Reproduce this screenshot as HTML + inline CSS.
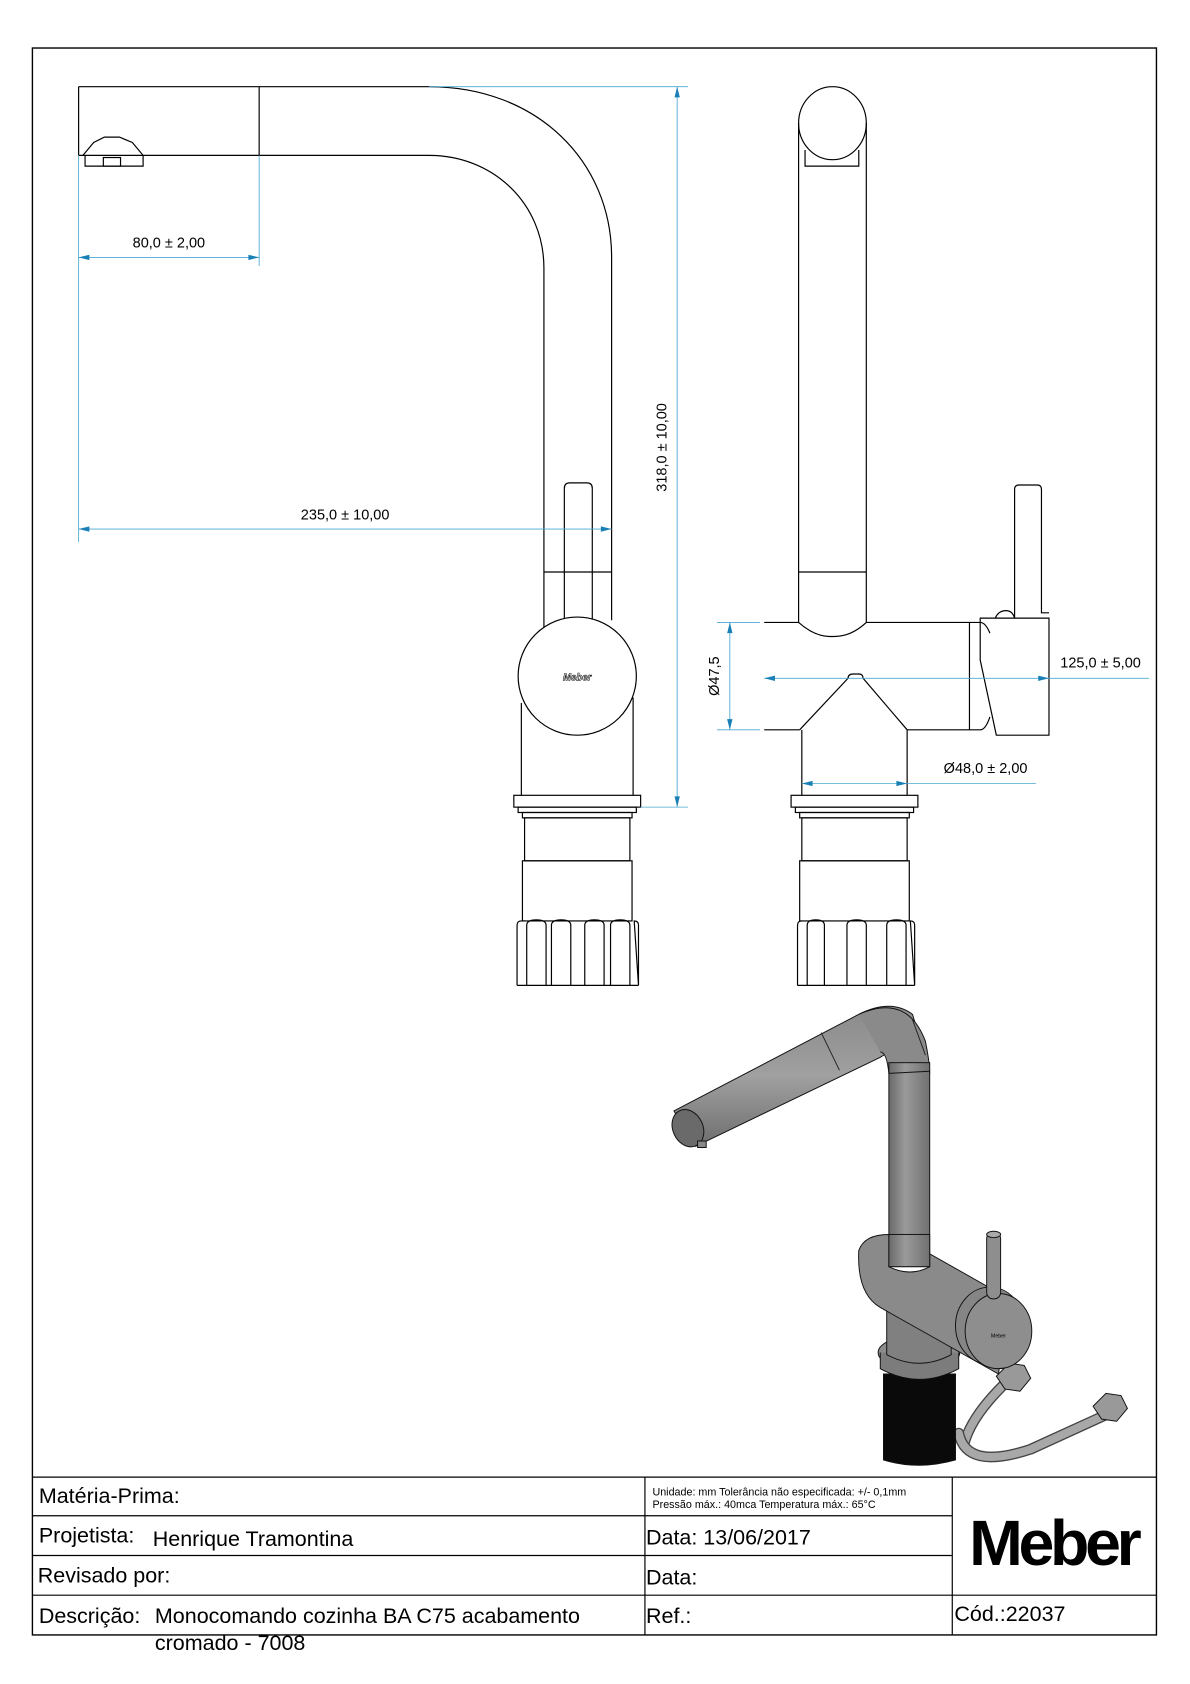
<!DOCTYPE html>
<html><head><meta charset="utf-8"><style>
html,body{margin:0;padding:0;background:#fff}
svg{display:block}
text{font-family:"Liberation Sans",Arial,sans-serif}
</style></head><body>
<svg width="1190" height="1684" viewBox="0 0 1190 1684" xmlns="http://www.w3.org/2000/svg">
<defs>
<linearGradient id="tube" x1="0" y1="0" x2="1" y2="0">
<stop offset="0" stop-color="#6a6a6a"/><stop offset="0.4" stop-color="#9a9a9a"/><stop offset="1" stop-color="#707070"/>
</linearGradient>
<linearGradient id="spout" x1="0" y1="0" x2="0" y2="1">
<stop offset="0" stop-color="#8a8a8a"/><stop offset="0.5" stop-color="#a0a0a0"/><stop offset="1" stop-color="#6e6e6e"/>
</linearGradient>
</defs>
<g transform="matrix(1.0746 0 0 1.0737 -0.9 -0.3)" fill="none" stroke="#000" stroke-width="1.1">
<rect x="31" y="45" width="1046" height="1478" stroke-width="1.3"/>
<line x1="31" y1="1376" x2="1077" y2="1376"/>
<line x1="31" y1="1412" x2="887" y2="1412"/>
<line x1="31" y1="1449" x2="887" y2="1449"/>
<line x1="31" y1="1486" x2="1077" y2="1486"/>
<line x1="601" y1="1376" x2="601" y2="1523"/>
<line x1="887" y1="1376" x2="887" y2="1523"/>

<!-- LEFT VIEW -->
<path d="M74 81 H400 C500 81 570 150 570 240 V578"/>
<path d="M74 145 H400 C460 145 507 190 507 250 V585"/>
<line x1="74" y1="81" x2="74" y2="145"/>
<line x1="242" y1="81" x2="242" y2="145"/>
<path d="M78 145 L88 133 L98 128 L112 128 L124 133 L134 145"/>
<path d="M80 145 V155 H134 V145"/>
<rect x="97" y="147" width="16" height="8"/>
<line x1="507" y1="533" x2="570" y2="533"/>
<path d="M526 578 V455 Q526 450 531 450 H547 Q552 450 552 455 V578"/>
<circle cx="538" cy="630" r="55" fill="#fff"/>
<text x="538" y="634" font-size="9" font-style="italic" font-weight="bold" text-anchor="middle" fill="#fff" stroke="#000" stroke-width="0.5">Meber</text>
<path d="M486 655 V741 M590 650 V741"/>
<rect x="479" y="741" width="118" height="11"/>
<rect x="483" y="752" width="110" height="5"/>
<rect x="487" y="757" width="102" height="5"/>
<rect x="489" y="762" width="98" height="40"/>
<rect x="487" y="802" width="102" height="56"/>
<path d="M482 918 V862 Q482 858 486 858 H489 M591 858 Q595 858 595 862 V918 Z"/>
<line x1="482" y1="918" x2="595" y2="918"/>
<path d="M491 918 V862 Q491 857 500 857 Q509 857 509 862 V918"/>
<path d="M514 918 V862 Q514 857 523 857 Q532 857 532 862 V918"/>
<path d="M545 918 V862 Q545 857 554 857 Q563 857 563 862 V918"/>
<path d="M569 918 V862 Q569 857 578 857 Q587 857 587 862 V918"/>

<!-- RIGHT VIEW -->
<path d="M744 580 V115 M807 580 V115"/>
<ellipse cx="775.5" cy="115" rx="31.5" ry="34"/>
<path d="M750 140 V155 H800 V140"/>
<line x1="744" y1="533" x2="807" y2="533"/>
<path d="M712 580 H744 Q760 594 775 593 Q792 594 807 580 H903 V680 H845 M745 680 H712 Z"/>
<path d="M745 680 L790 632 Q790 628 795 628 H800 Q804 628 804 632 L845 680"/>
<path d="M747 680 V741 M845 680 V741"/>
<path d="M903 580 H913 M903 680 H913 Q918 680 922 668"/>
<path d="M913 580 Q918 580 922 590"/>
<path d="M913 576 H977 V685 H928 L913 615 Z"/>
<path d="M945 576 V456 Q945 452 949 452 H966 Q970 452 970 456 V571 H977"/>
<path d="M927 576 Q930 569 937 569 Q943 569 945 576"/>
<rect x="737" y="741" width="118" height="11"/>
<rect x="741" y="752" width="110" height="5"/>
<rect x="745" y="757" width="102" height="5"/>
<rect x="747" y="762" width="98" height="40"/>
<rect x="745" y="802" width="102" height="56"/>
<path d="M743 918 V862 Q743 858 747 858 M848 858 Q852 858 852 862 V918 Z"/>
<line x1="743" y1="918" x2="852" y2="918"/>
<path d="M752 918 V862 Q752 857 760 857 Q768 857 768 862 V918"/>
<path d="M789 918 V862 Q789 857 798 857 Q807 857 807 862 V918"/>
<path d="M826 918 V862 Q826 857 835 857 Q844 857 844 862 V918"/>

<!-- DIMENSIONS -->
<g stroke="#4aa8d0" stroke-width="0.8">
<line x1="74" y1="145" x2="74" y2="505"/>
<line x1="242" y1="145" x2="242" y2="248"/>
<line x1="400" y1="81" x2="641" y2="81"/>
<line x1="597" y1="752" x2="641" y2="752"/>
<line x1="74" y1="240" x2="242" y2="240"/>
<line x1="74" y1="493" x2="570" y2="493"/>
<line x1="631" y1="81" x2="631" y2="752"/>
<line x1="668" y1="580" x2="708" y2="580"/>
<line x1="668" y1="680" x2="708" y2="680"/>
<line x1="680" y1="580" x2="680" y2="680"/>
<line x1="712" y1="632" x2="1070" y2="632"/>
<line x1="747" y1="730" x2="965" y2="730"/>
</g>
<g fill="#1a7fb5" stroke="none">
<path d="M74 240 l10 -2.5 v5 z"/><path d="M242 240 l-10 -2.5 v5 z"/>
<path d="M74 493 l10 -2.5 v5 z"/><path d="M570 493 l-10 -2.5 v5 z"/>
<path d="M631 81 l-2.5 10 h5 z"/><path d="M631 752 l-2.5 -10 h5 z"/>
<path d="M680 580 l-2.5 10 h5 z"/><path d="M680 680 l-2.5 -10 h5 z"/>
<path d="M712 632 l10 -2.5 v5 z"/><path d="M977 632 l-10 -2.5 v5 z"/>
<path d="M747 730 l10 -2.5 v5 z"/><path d="M845 730 l-10 -2.5 v5 z"/>
</g>
<g fill="#000" stroke="none" font-size="13.5">
<text x="158" y="231" text-anchor="middle">80,0 ± 2,00</text>
<text x="322" y="484" text-anchor="middle">235,0 ± 10,00</text>
<text transform="translate(621,417) rotate(-90)" text-anchor="middle">318,0 ± 10,00</text>
<text transform="translate(670,630) rotate(-90)" text-anchor="middle">Ø47,5</text>
<text x="1025" y="622" text-anchor="middle">125,0 ± 5,00</text>
<text x="918" y="720" text-anchor="middle">Ø48,0 ± 2,00</text>
</g>

<!-- ISOMETRIC RENDER -->
<g stroke="#111" stroke-width="0.9">
<path d="M898 1345 Q905 1318 940 1285" stroke="#444" stroke-width="10" stroke-linecap="round"/>
<path d="M898 1345 Q905 1318 940 1285" stroke="#a8a8a8" stroke-width="7.5" stroke-linecap="round"/>
<path d="M893 1335 Q900 1370 960 1350 L1030 1318" stroke="#444" stroke-width="10" stroke-linecap="round"/>
<path d="M893 1335 Q900 1370 960 1350 L1030 1318" stroke="#a8a8a8" stroke-width="7.5" stroke-linecap="round"/>
<path d="M928 1282 l12 -12 l14 2 l6 12 l-10 12 l-14 -2 z" fill="#999"/>
<path d="M1018 1310 l12 -12 l14 2 l6 12 l-10 12 l-14 -2 z" fill="#999"/>
<path d="M823 1280 V1360 Q855 1370 890 1360 V1280 Z" fill="#0a0a0a"/>
<ellipse cx="856" cy="1260" rx="38" ry="16" fill="#8c8c8c"/>
<path d="M820 1260 V1275 Q856 1295 893 1275 V1260" fill="#7c7c7c"/>
<path d="M826 1210 V1262 Q856 1278 886 1262 V1215 Z" fill="#808080"/>
<path d="M628 1035 L800 945 Q830 930 850 945 L862 985 L840 985 Q835 975 820 985 L648 1068 Z" fill="url(#spout)"/>
<path d="M800 945 Q845 925 862 970 Q866 990 866 1000 L828 1000 Q826 980 820 980" fill="#8a8a8a"/>
<ellipse cx="641" cy="1051" rx="14" ry="18" transform="rotate(-25 641 1051)" fill="#6a6a6a"/>
<line x1="765" y1="962" x2="782" y2="997" stroke="#222"/>
<line x1="850" y1="950" x2="862" y2="983" stroke="#222"/>
<path d="M650 1063 h8 v6 h-8 z" fill="#888"/>
<rect x="828" y="990" width="38" height="190" fill="url(#tube)"/>
<line x1="828" y1="1000" x2="866" y2="998"/>
<line x1="828" y1="1153" x2="866" y2="1150"/>
<path d="M800 1165 Q805 1150 828 1150 L828 1180 Q848 1190 866 1180 L866 1168 L940 1210 L930 1280 L820 1218 Q798 1205 800 1165 Z" fill="#8a8a8a"/>
<rect x="828" y="1150" width="38" height="30" fill="url(#tube)"/>
<ellipse cx="922" cy="1235" rx="32" ry="36" fill="#858585"/>
<ellipse cx="930" cy="1240" rx="31" ry="35" fill="#8e8e8e"/>
<text x="930" y="1246" font-size="5" fill="#000" stroke="none" text-anchor="middle">Meber</text>
<rect x="919" y="1148" width="13" height="62" rx="6" fill="#8e8e8e"/>
<ellipse cx="925.5" cy="1150" rx="6.5" ry="3" fill="#aaa"/>
</g>

<!-- TITLE TEXT -->
<g fill="#000" stroke="none">
<text x="37" y="1400" font-size="20">Matéria-Prima:</text>
<text x="37" y="1437" font-size="20">Projetista:</text>
<text x="143" y="1440" font-size="20">Henrique Tramontina</text>
<text x="36" y="1474" font-size="20">Revisado por:</text>
<text x="37" y="1512" font-size="20">Descrição:</text>
<text x="145" y="1512" font-size="20">Monocomando cozinha BA C75 acabamento</text>
<text x="145" y="1537" font-size="20">cromado - 7008</text>
<text x="608" y="1393" font-size="10">Unidade: mm Tolerância não especificada: +/- 0,1mm</text>
<text x="608" y="1405" font-size="10">Pressão máx.: 40mca        Temperatura máx.: 65°C</text>
<text x="602" y="1439" font-size="20">Data: 13/06/2017</text>
<text x="602" y="1476" font-size="20">Data:</text>
<text x="602" y="1512" font-size="20">Ref.:</text>
<text x="889" y="1510" font-size="20">Cód.:22037</text>
<text x="981" y="1458" font-size="60" font-weight="bold" text-anchor="middle" letter-spacing="-4">Meber</text>
</g>
</g>
</svg>
</body></html>
